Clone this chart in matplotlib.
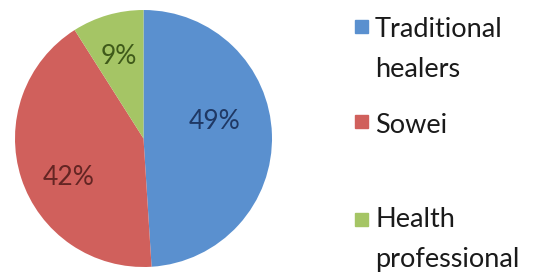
import matplotlib.pyplot as plt
from matplotlib.patches import Rectangle

# Who performs the procedure
categories = ["Traditional\nhealers", "Sowei", "Health\nprofessional"]
shares = [49, 42, 9]
colors = ["#5A90CF", "#D0605C", "#A5C565"]
label_colors = ["#1F3864", "#632523", "#3F5A1A"]
# label spots inside the pie, in units of the radius
label_xy = [(0.55, 0.13), (-0.58, -0.30), (-0.19, 0.64)]

plt.rcParams["font.family"] = ["Lato", "DejaVu Sans"]

fig = plt.figure(figsize=(5.33, 2.73), dpi=100)
ax = fig.add_axes([15 / 533, 6 / 273, 257 / 533, 257 / 273])

wedges, texts, autotexts = ax.pie(
    shares, colors=colors, startangle=90, counterclock=False,
    autopct="%d%%", textprops={"fontsize": 19},
)
for t, xy, c in zip(autotexts, label_xy, label_colors):
    t.set_position(xy)
    t.set_color(c)
ax.set_xlim(-1, 1)
ax.set_ylim(-1, 1)
ax.set_aspect("equal")

# legend on the right, drawn by hand to copy the spreadsheet layout
square_tops = [20, 115, 213]
last_baselines = [77, 133, 267]
for lab, col, top, base in zip(categories, colors, square_tops, last_baselines):
    fig.patches.append(Rectangle((355 / 533, 1 - (top + 13) / 273), 13 / 533, 13 / 273,
                                 transform=fig.transFigure, color=col))
    fig.text(375 / 533, 1 - base / 273, lab, fontsize=19.5, va="baseline",
             ha="left", color="#1a1a1a", linespacing=1.74)

fig.savefig("out.png", dpi=100)
